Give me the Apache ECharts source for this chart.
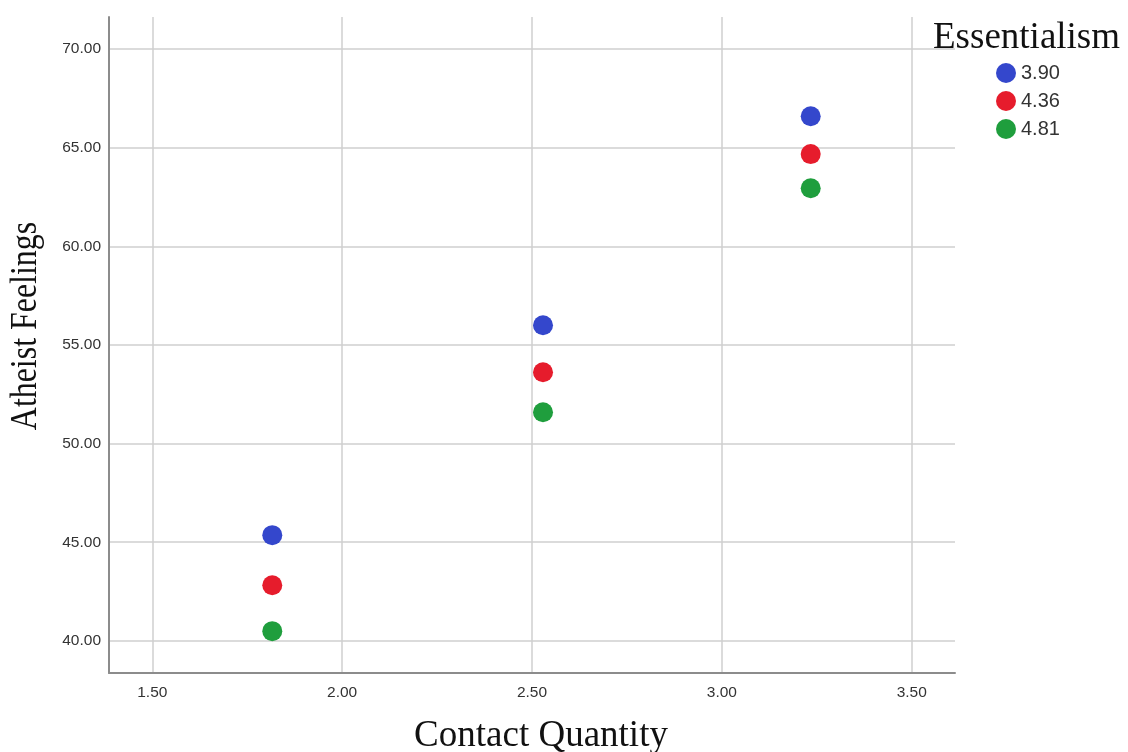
<!DOCTYPE html>
<html>
<head>
<meta charset="utf-8">
<script src="https://cdn.jsdelivr.net/npm/echarts@6/dist/echarts.min.js"></script>
<style>html,body{margin:0;padding:0;background:#fff}#c{width:1128px;height:752px}</style>
</head>
<body>
<div id="c"></div>
<script>
const groupNames = ['3.90', '4.36', '4.81'];
const groupColors = ['#3447cc', '#e61c2c', '#1f9e3d'];
const contactQuantity = [1.816, 2.529, 3.234];
const feelings390 = [45.36, 56.00, 66.60];
const feelings436 = [42.82, 53.62, 64.68];
const feelings481 = [40.49, 51.59, 62.95];
const xTicks = [1.5, 2.0, 2.5, 3.0, 3.5];
const yTicks = [40, 45, 50, 55, 60, 65, 70];
const xRange = [1.386, 3.614];
const yRange = [38.37, 71.63];

const seriesValues = [feelings390, feelings436, feelings481];
const chart = echarts.init(document.getElementById('c'));
const labelStyle = {color: '#333', fontFamily: 'Liberation Sans', fontSize: 15.5};
chart.setOption({
  animation: false,
  grid: {left: 109, right: 173, top: 17, bottom: 79},
  xAxis: {
    type: 'value', min: xRange[0], max: xRange[1],
    axisLine: {show: true, onZero: false, lineStyle: {color: '#8c8c8c', width: 2}},
    axisTick: {show: false, customValues: xTicks},
    axisLabel: Object.assign({customValues: xTicks, margin: 12, formatter: v => v.toFixed(2)}, labelStyle),
    splitLine: {show: true, lineStyle: {color: '#cfcfcf', width: 1.5}}
  },
  yAxis: {
    type: 'value', min: yRange[0], max: yRange[1],
    axisLine: {show: true, onZero: false, lineStyle: {color: '#8c8c8c', width: 2}},
    axisTick: {show: false, customValues: yTicks},
    axisLabel: Object.assign({customValues: yTicks, margin: 8, formatter: v => v.toFixed(2)}, labelStyle),
    splitLine: {show: true, lineStyle: {color: '#cfcfcf', width: 1.5}}
  },
  legend: {
    orient: 'vertical', left: 996, top: 63, itemGap: 8, padding: 0,
    icon: 'circle', itemWidth: 20, itemHeight: 20,
    textStyle: {color: '#333', fontFamily: 'Liberation Sans', fontSize: 20, padding: [0, 0, 0, 0]},
    data: groupNames
  },
  graphic: [
    {type: 'text', x: 933, y: 38, style: {text: 'Essentialism', font: '37px "Liberation Serif"', fill: '#111', align: 'left', verticalAlign: 'middle'}},
    {type: 'text', x: 541, y: 736, style: {text: 'Contact Quantity', font: '37px "Liberation Serif"', fill: '#111', align: 'center', verticalAlign: 'middle'}},
    {type: 'text', x: 26, y: 326, rotation: Math.PI / 2, scaleX: 0.84, style: {text: 'Atheist Feelings', font: '38px "Liberation Serif"', fill: '#111', align: 'center', verticalAlign: 'middle'}}
  ],
  series: groupNames.map((n, i) => ({
    name: n, type: 'scatter', symbolSize: 20,
    itemStyle: {color: groupColors[i], opacity: 1},
    data: contactQuantity.map((x, j) => [x, seriesValues[i][j]])
  }))
});
</script>
</body>
</html>
